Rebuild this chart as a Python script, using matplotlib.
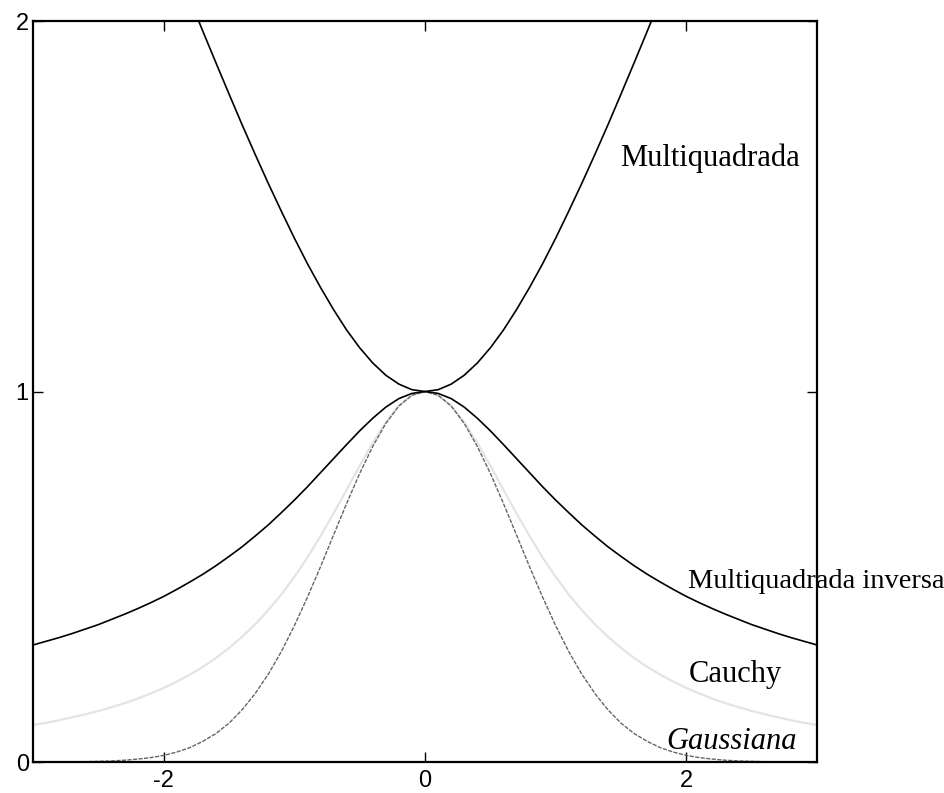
import matplotlib.pyplot as plt

import numpy as np

# sample points on x >= 0, curves are symmetric about x = 0
x_half = np.round(np.arange(0, 3.01, 0.1), 1)

multiquadrada = [1.000, 1.005, 1.020, 1.044, 1.077, 1.118, 1.166, 1.221, 1.281, 1.345,
                 1.414, 1.487, 1.562, 1.640, 1.720, 1.803, 1.887, 1.972, 2.059]
mq_inversa = [1.000, 0.995, 0.981, 0.958, 0.928, 0.894, 0.857, 0.819, 0.781, 0.743,
              0.707, 0.673, 0.640, 0.610, 0.581, 0.555, 0.530, 0.507, 0.486, 0.466,
              0.447, 0.430, 0.414, 0.399, 0.385, 0.371, 0.359, 0.347, 0.336, 0.326, 0.316]
cauchy = [1.000, 0.990, 0.962, 0.917, 0.862, 0.800, 0.735, 0.671, 0.610, 0.552,
          0.500, 0.452, 0.410, 0.372, 0.338, 0.308, 0.281, 0.257, 0.236, 0.217,
          0.200, 0.185, 0.171, 0.159, 0.148, 0.138, 0.129, 0.121, 0.113, 0.106, 0.100]
gaussiana = [1.000, 0.990, 0.961, 0.914, 0.852, 0.779, 0.698, 0.613, 0.527, 0.445,
             0.368, 0.298, 0.237, 0.185, 0.141, 0.105, 0.077, 0.056, 0.039, 0.027,
             0.018, 0.012, 0.008, 0.005, 0.003, 0.002, 0.001, 0.001, 0.000, 0.000, 0.000]

x_ticks = [-2, 0, 2]
y_ticks = [0, 1, 2]


def mirror(values):
    """Return (x, y) covering both sides of the origin."""
    n = len(values)
    xs = x_half[:n]
    ys = np.asarray(values)
    return (np.concatenate([-xs[::-1], xs[1:]]),
            np.concatenate([ys[::-1], ys[1:]]))


plt.rcParams["axes.unicode_minus"] = False

fig = plt.figure(figsize=(9.44, 7.93), dpi=100)
ax = fig.add_axes([0.035, 0.039, 0.8305, 0.9345])

x, y = mirror(cauchy)
ax.plot(x, y, color="#e4e4e4", lw=1.6)
x, y = mirror(gaussiana)
ax.plot(x, y, color="#666666", lw=1.0, linestyle=(0, (3, 1)))
x, y = mirror(mq_inversa)
ax.plot(x, y, color="black", lw=1.2)
x, y = mirror(multiquadrada)
ax.plot(x, y, color="black", lw=1.2)

ax.set_xlim(-3, 3)
ax.set_ylim(0, 2)
ax.set_xticks(x_ticks)
ax.set_yticks(y_ticks)
ax.tick_params(direction="in", length=7, width=1, top=True, right=True,
               labelsize=17)
ax.tick_params(axis="x", pad=6)
ax.tick_params(axis="y", pad=3)
for lab in ax.get_xticklabels() + ax.get_yticklabels():
    lab.set_family("Liberation Sans")
for s in ax.spines.values():
    s.set_linewidth(1.6)

serif = dict(family="Liberation Serif", fontsize=22, clip_on=False)
ax.text(1.49, 1.61, "Multiquadrada", **serif)
ax.text(2.01, 0.47, "Multiquadrada inversa", **dict(serif, fontsize=20.5))
ax.text(2.02, 0.216, "Cauchy", **serif)
ax.text(1.85, 0.035, "Gaussiana", style="italic", **serif)

fig.savefig("out.png", dpi=100)
